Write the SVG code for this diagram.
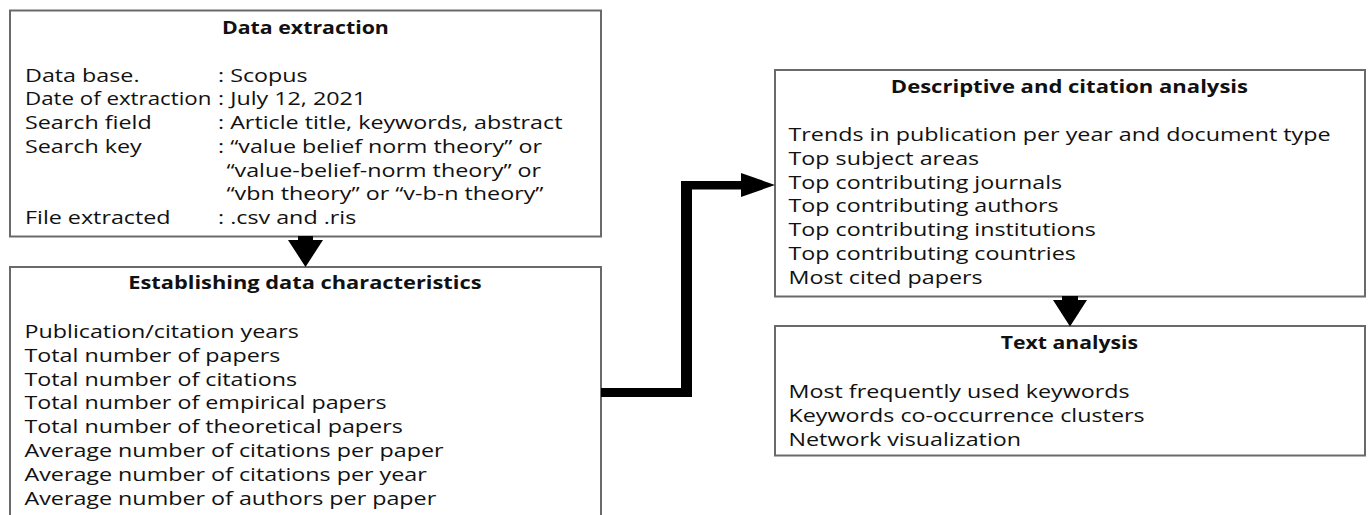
<svg xmlns="http://www.w3.org/2000/svg" width="1368" height="515" viewBox="0 0 1368 515">
<style>
.box{fill:#fff;stroke:#6a6a6a;stroke-width:2}
.t{font-family:"Open Sans","Liberation Sans",sans-serif;font-size:18px;fill:#111}
.h{font-family:"Open Sans","Liberation Sans",sans-serif;font-size:18px;font-weight:bold;fill:#111;text-anchor:middle}
.conn{fill:#000;stroke:none}
</style>
<rect width="1368" height="515" fill="#fff"/>
<g id="data-extraction">
<rect class="box" x="10" y="10.5" width="591" height="226"/>
<g transform="translate(25 0) scale(1.294 1)">
<text class="h" x="216.7" y="34.3" textLength="129" lengthAdjust="spacingAndGlyphs">Data extraction</text>
<text class="t" x="0" y="81.7">Data base.</text>
<text class="t" x="0" y="105.5" textLength="144" lengthAdjust="spacingAndGlyphs">Date of extraction</text>
<text class="t" x="0" y="129.2">Search field</text>
<text class="t" x="0" y="153">Search key</text>
<text class="t" x="0" y="224.3">File extracted</text>
</g>
<g transform="translate(218 0) scale(1.294 1)">
<text class="t" x="0" y="81.7">: Scopus</text>
<text class="t" x="0" y="105.5">: July 12, 2021</text>
<text class="t" x="0" y="129.2">: Article title, keywords, abstract</text>
<text class="t" x="0" y="153">: “value belief norm theory” or</text>
<text class="t" x="6.5" y="176.8">“value-belief-norm theory” or</text>
<text class="t" x="6.5" y="200.5">“vbn theory” or “v-b-n theory”</text>
<text class="t" x="0" y="224.3">: .csv and .ris</text>
</g>
</g>
<g id="data-characteristics">
<rect class="box" x="10" y="267" width="591" height="270"/>
<g transform="translate(24.5 0) scale(1.294 1)">
<text class="h" x="216.7" y="289.5" textLength="273" lengthAdjust="spacingAndGlyphs">Establishing data characteristics</text>
<text class="t" x="0" y="338">Publication/citation years</text>
<text class="t" x="0" y="361.8">Total number of papers</text>
<text class="t" x="0" y="385.6">Total number of citations</text>
<text class="t" x="0" y="409.4">Total number of empirical papers</text>
<text class="t" x="0" y="433.2">Total number of theoretical papers</text>
<text class="t" x="0" y="457">Average number of citations per paper</text>
<text class="t" x="0" y="480.8">Average number of citations per year</text>
<text class="t" x="0" y="504.6">Average number of authors per paper</text>
</g>
</g>
<g id="descriptive-analysis">
<rect class="box" x="775" y="70" width="590" height="226.5"/>
<g transform="translate(788.5 0) scale(1.294 1)">
<text class="h" x="217.1" y="92.7" textLength="276" lengthAdjust="spacingAndGlyphs">Descriptive and citation analysis</text>
<text class="t" x="0" y="141">Trends in publication per year and document type</text>
<text class="t" x="0" y="164.8">Top subject areas</text>
<text class="t" x="0" y="188.6">Top contributing journals</text>
<text class="t" x="0" y="212.4">Top contributing authors</text>
<text class="t" x="0" y="236.2">Top contributing institutions</text>
<text class="t" x="0" y="260">Top contributing countries</text>
<text class="t" x="0" y="283.8">Most cited papers</text>
</g>
</g>
<g id="text-analysis">
<rect class="box" x="775" y="326" width="590" height="129.5"/>
<g transform="translate(788.5 0) scale(1.294 1)">
<text class="h" x="217.1" y="349" textLength="106" lengthAdjust="spacingAndGlyphs">Text analysis</text>
<text class="t" x="0" y="398">Most frequently used keywords</text>
<text class="t" x="0" y="421.8">Keywords co-occurrence clusters</text>
<text class="t" x="0" y="445.6">Network visualization</text>
</g>
</g>
<g id="connectors">
<path class="conn" d="M298,236 L313,236 L313,240 L323,240 L305.5,267 L288,240 L298,240 Z"/>
<path class="conn" d="M1062,296 L1078,296 L1078,300 L1087,300 L1070,326.5 L1053,300 L1062,300 Z"/>
<path class="conn" d="M601,388 L681,388 L681,181 L741,181 L741,173 L775,185 L741,197 L741,189.5 L692,189.5 L692,397 L601,397 Z"/>
</g>
</svg>
